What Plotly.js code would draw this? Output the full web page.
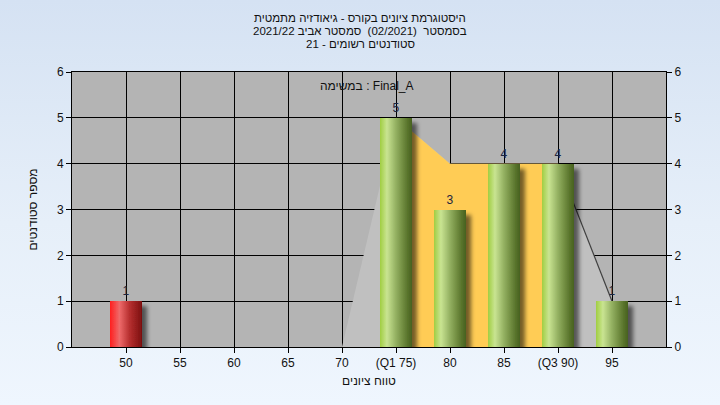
<!DOCTYPE html>
<html>
<head>
<meta charset="utf-8">
<script src="https://cdn.plot.ly/plotly-3.0.1.min.js"></script>
<style>
html,body{margin:0;padding:0;}
body{width:720px;height:405px;background:linear-gradient(to bottom,#d5e2f3 0%,#e6eff9 55%,#eff6fe 100%);overflow:hidden;}
#chart{width:720px;height:405px;}
</style>
</head>
<body>
<div id="chart"></div>
<script>
// ---- data ----
const categories = [50, 55, 60, 65, 70, 75, 80, 85, 90, 95];
const tickLabels = ['50', '55', '60', '65', '70', '(Q1 75)', '80', '85', '(Q3 90)', '95'];
const counts = [1, 0, 0, 0, 0, 5, 3, 4, 4, 1];
const curveX = [70, 75, 80, 85, 90, 95];
const curveY = [0, 5, 4, 4, 4, 1];
const q1 = 75;
const q3 = 90;
const passScore = 55;
const yTicks = [0, 1, 2, 3, 4, 5, 6];
const titleLines = [
  'היסטוגרמת ציונים בקורס - גיאודזיה מתמטית',
  'בסמסטר  (02/2021)  סמסטר אביב 2021/22',
  'סטודנטים רשומים - 21'
];
const taskLabel = 'במשימה : Final_A';
const xTitle = 'טווח ציונים';
const yTitle = 'מספר סטודנטים';

// ---- derived ----
const iqrX = [], iqrY = [], tailX = [], tailY = [];
curveX.forEach((x, i) => {
  if (x >= q1 && x <= q3) { iqrX.push(x); iqrY.push(curveY[i]); }
  if (x >= q3) { tailX.push(x); tailY.push(curveY[i]); }
});
const RED = 'rgb(230,30,30)', GREEN = 'rgb(140,180,70)';
const barColors = categories.map(c => c < passScore ? RED : GREEN);
const barText = counts.map(c => c > 0 ? String(c) : '');

const FONT = 'Liberation Sans, Arial, DejaVu Sans, sans-serif';

const traces = [
  { type: 'scatter', x: curveX, y: curveY, mode: 'lines', fill: 'tozeroy',
    fillcolor: '#c0c0c0', line: { width: 0, color: 'rgba(0,0,0,0)' }, hoverinfo: 'skip', showlegend: false },
  { type: 'scatter', x: iqrX, y: iqrY, mode: 'lines', fill: 'tozeroy',
    fillcolor: '#ffcc55', line: { width: 0, color: 'rgba(0,0,0,0)' }, hoverinfo: 'skip', showlegend: false },
  { type: 'scatter', x: tailX, y: tailY, mode: 'lines',
    line: { width: 1.2, color: '#404040' }, hoverinfo: 'skip', showlegend: false },
  { type: 'bar', x: categories, y: counts, yaxis: 'y2', width: 3, marker: { color: barColors, line: { width: 0 } },
    text: barText, textposition: 'outside', cliponaxis: false,
    textfont: { family: FONT, size: 12, color: '#1c2440' }, showlegend: false }
];

const axisCommon = {
  showline: true, linecolor: '#000', linewidth: 1,
  ticks: 'outside', ticklen: 5, tickcolor: '#000', tickwidth: 1,
  tickfont: { family: FONT, size: 12, color: '#111' },
  zeroline: false
};

const annotations = titleLines.map((t, i) => ({
  text: t, xref: 'paper', yref: 'paper', x: (360 - 72) / 594, y: (347 - (18 + 13 * i)) / 275,
  xanchor: 'center', yanchor: 'middle', showarrow: false,
  font: { family: FONT, size: 11.5, color: '#111' }
}));
annotations.push({
  text: taskLabel, xref: 'paper', yref: 'paper', x: (367 - 72) / 594, y: (347 - 86) / 275,
  xanchor: 'center', yanchor: 'middle', showarrow: false,
  font: { family: FONT, size: 12, color: '#111' }
});

const layout = {
  width: 720, height: 405,
  margin: { l: 72, r: 54, t: 72, b: 58 },
  paper_bgcolor: 'rgba(0,0,0,0)',
  plot_bgcolor: '#b4b4b4',
  showlegend: false,
  bargap: 0,
  xaxis: Object.assign({}, axisCommon, {
    range: [45, 100], tickmode: 'array', tickvals: categories, ticktext: tickLabels,
    showgrid: true, gridcolor: '#000', gridwidth: 1, mirror: true,
    title: { text: xTitle, font: { family: FONT, size: 12, color: '#111' }, standoff: 7 }
  }),
  yaxis: Object.assign({}, axisCommon, {
    range: [0, 6], tickmode: 'array', tickvals: yTicks,
    showgrid: true, gridcolor: '#000', gridwidth: 1, mirror: true,
    title: { text: yTitle, font: { family: FONT, size: 12, color: '#111' }, standoff: 16 }
  }),
  yaxis2: Object.assign({}, axisCommon, {
    range: [0, 6], tickmode: 'array', tickvals: yTicks, overlaying: 'y', side: 'right',
    showgrid: false
  }),
  annotations: annotations
};

Plotly.newPlot('chart', traces, layout, { staticPlot: true, displayModeBar: false }).then(gd => {
  const svg = gd.querySelector('svg.main-svg');
  const defs = svg.querySelector('defs');
  const ns = 'http://www.w3.org/2000/svg';
  function grad(id, stops) {
    const g = document.createElementNS(ns, 'linearGradient');
    g.setAttribute('id', id);
    g.setAttribute('x1', '0'); g.setAttribute('x2', '1'); g.setAttribute('y1', '0'); g.setAttribute('y2', '0');
    stops.forEach(([o, c]) => {
      const s = document.createElementNS(ns, 'stop');
      s.setAttribute('offset', o); s.setAttribute('stop-color', c);
      g.appendChild(s);
    });
    defs.appendChild(g);
  }
  grad('gGreen', [[0, '#9fcd3e'], [0.22, '#c9e492'], [0.5, '#93b061'], [0.85, '#5a752c'], [1, '#46601f']]);
  grad('gRed', [[0, '#ff1c1c'], [0.3, '#ee6a6a'], [0.6, '#b83030'], [1, '#7a0e0e']]);
  const f = document.createElementNS(ns, 'filter');
  f.setAttribute('id', 'barShadow');
  f.setAttribute('x', '-20%'); f.setAttribute('y', '-20%'); f.setAttribute('width', '160%'); f.setAttribute('height', '160%');
  const ds = document.createElementNS(ns, 'feDropShadow');
  ds.setAttribute('dx', '5'); ds.setAttribute('dy', '5'); ds.setAttribute('stdDeviation', '2');
  ds.setAttribute('flood-color', '#000'); ds.setAttribute('flood-opacity', '0.55');
  f.appendChild(ds);
  defs.appendChild(f);
  gd.querySelectorAll('.barlayer .point path').forEach((p, i) => {
    const fill = p.style.fill || '';
    p.style.fill = fill.indexOf('230') >= 0 ? 'url(#gRed)' : 'url(#gGreen)';
    p.setAttribute('filter', 'url(#barShadow)');
  });
});
</script>
</body>
</html>
